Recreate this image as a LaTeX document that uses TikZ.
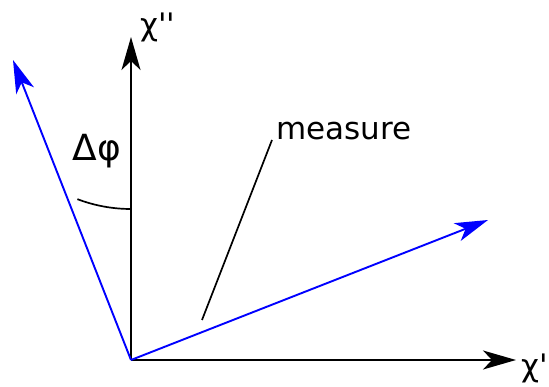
\documentclass[tikz,border=0pt]{standalone}
\usepackage{fontspec}
\setmainfont{DejaVu Sans}
\newfontfamily\qfont{DejaVu Sans}[Ligatures=TeXOff]
\usetikzlibrary{arrows.meta}
\begin{document}
\begin{tikzpicture}[x=1pt,y=-1pt,
  tip/.style={-{Stealth[length=33pt,width=19pt,inset=9pt]}},
  axis/.style={tip,line width=1.9pt,black},
  vec/.style={tip,line width=1.9pt,blue},
  lbl/.style={inner sep=0pt,font=\qfont\fontsize{31}{33}\selectfont}]
\useasboundingbox (0,0) rectangle (549,387);
\coordinate (O) at (131,360);
\coordinate (Y) at (131,37);
\coordinate (X) at (516,360);
\coordinate (A) at (13,60);
\coordinate (B) at (488,220);
\draw[axis] (O) -- (Y);
\draw[axis] (O) -- (X);
\draw[vec] (O) -- (A);
\draw[vec] (O) -- (B);
\draw[line width=1.7pt] (131,209) arc[start angle=90,end angle=110.8,radius=151];
\node[lbl,anchor=base west] (chi2) at (140,36) {χ''};
\node[lbl,anchor=base west] (chi1) at (521,376) {χ'};
\node[lbl,font=\fontsize{36}{38}\selectfont] (dphi) at (97,151) {Δφ};
\node[lbl,anchor=base west] (meas) at (276,140) {measure};
\coordinate (m1) at (272,140);
\coordinate (m2) at (202,320);
\draw[line width=1.7pt] (m1) -- (m2);
\end{tikzpicture}
\end{document}
